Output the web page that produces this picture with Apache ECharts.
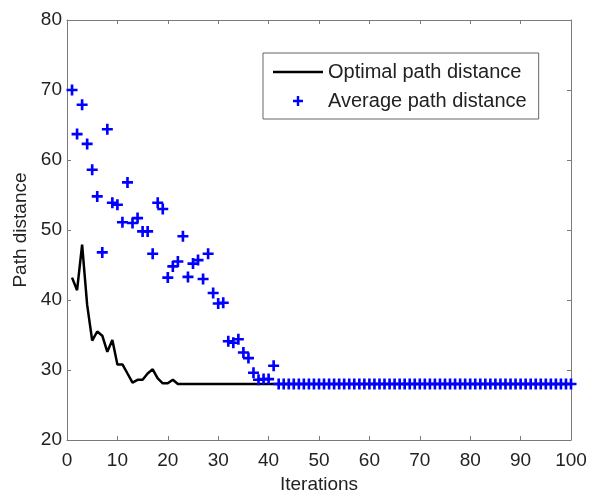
<!DOCTYPE html>
<html>
<head>
<meta charset="utf-8">
<script src="https://cdn.jsdelivr.net/npm/echarts@6/dist/echarts.min.js"></script>
<style>
  html, body { margin: 0; padding: 0; background: #fff; }
  #chart { width: 589px; height: 493px; }
</style>
</head>
<body>
<div id="chart"></div>
<script>
const xTicks = [0, 10, 20, 30, 40, 50, 60, 70, 80, 90, 100]
const yTicks = [20, 30, 40, 50, 60, 70, 80]

const optimal = [
  43.2, 41.4, 47.9, 39.3, 34.2, 35.5, 34.9, 32.6, 34.3, 30.8,
  30.8, 29.5, 28.2, 28.6, 28.6, 29.5, 30.1, 28.8, 28.1, 28.1,
  28.6, 28, 28, 28, 28, 28, 28, 28, 28, 28,
  28, 28, 28, 28, 28, 28, 28, 28, 28, 28,
  28, 28, 28, 28, 28, 28, 28, 28, 28, 28,
  28, 28, 28, 28, 28, 28, 28, 28, 28, 28,
  28, 28, 28, 28, 28, 28, 28, 28, 28, 28,
  28, 28, 28, 28, 28, 28, 28, 28, 28, 28,
  28, 28, 28, 28, 28, 28, 28, 28, 28, 28,
  28, 28, 28, 28, 28, 28, 28, 28, 28, 28
]
const average = [
  70, 63.7, 67.9, 62.3, 58.6, 54.8, 46.8, 64.4, 53.9, 53.6,
  51.1, 56.8, 51.0, 51.7, 49.8, 49.8, 46.6, 53.9, 53.0, 43.2,
  44.8, 45.5, 49.1, 43.3, 45.2, 45.7, 43.0, 46.6, 41.0, 39.5,
  39.6, 34.1, 33.9, 34.4, 32.5, 31.7, 29.6, 28.6, 28.7, 28.7,
  30.6, 28, 28, 28, 28, 28, 28, 28, 28, 28,
  28, 28, 28, 28, 28, 28, 28, 28, 28, 28,
  28, 28, 28, 28, 28, 28, 28, 28, 28, 28,
  28, 28, 28, 28, 28, 28, 28, 28, 28, 28,
  28, 28, 28, 28, 28, 28, 28, 28, 28, 28,
  28, 28, 28, 28, 28, 28, 28, 28, 28, 28
]

// plus marker; legend icons padded with two tiny corner dots so they keep their shape
const plus = 'path://M3.8,0H6.2V3.8H10V6.2H6.2V10H3.8V6.2H0V3.8H3.8Z'
const corners = 'path://M0,0h0.01v0.01h-0.01zM49.99,13.99h0.01v0.01h-0.01z'
const plusIcon = corners + 'M23.8,2H26.2V5.8H30V8.2H26.2V12H23.8V8.2H20V5.8H23.8Z'
const lineIcon = corners + 'M0,5.8H50V8.2H0Z'

const font = 'Arial, "Liberation Sans", sans-serif'
const axisGray = '#7a7a7a'

const chart = echarts.init(document.getElementById('chart'))

function xAxisOf(pos, labels) {
  return {
    type: 'value', position: pos, min: 0, max: 100, interval: 10,
    name: labels ? 'Iterations' : '', nameLocation: 'middle', nameGap: 29,
    nameTextStyle: { fontSize: 19, color: '#222', fontFamily: font },
    axisLine: { show: true, onZero: false, lineStyle: { color: axisGray, width: 1 } },
    axisTick: { show: true, inside: true, length: 4, lineStyle: { color: axisGray } },
    axisLabel: { show: labels, fontSize: 19, color: '#222', fontFamily: font, margin: 11 },
    splitLine: { show: false }
  }
}
function yAxisOf(pos, labels) {
  return {
    type: 'value', position: pos, min: 20, max: 80, interval: 10,
    name: labels ? 'Path distance' : '', nameLocation: 'middle', nameGap: 37,
    nameTextStyle: { fontSize: 19, color: '#222', fontFamily: font },
    axisLine: { show: true, onZero: false, lineStyle: { color: axisGray, width: 1 } },
    axisTick: { show: true, inside: true, length: 4, lineStyle: { color: axisGray } },
    axisLabel: { show: labels, fontSize: 19, color: '#222', fontFamily: font, margin: 5 },
    splitLine: { show: false }
  }
}

chart.setOption({
  animation: false,
  grid: { left: 67, right: 18, top: 20, bottom: 53, containLabel: false, outerBoundsMode: 'none' },
  legend: {
    left: 263, top: 53, orient: 'vertical',
    padding: [9, 12, 8, 10], itemGap: 9, itemWidth: 50, itemHeight: 14,
    backgroundColor: '#fff', borderColor: '#666', borderWidth: 1,
    textStyle: { fontSize: 20, color: '#222', fontFamily: font },
    data: [
      { name: 'Optimal path distance', icon: lineIcon },
      { name: 'Average path distance', icon: plusIcon }
    ]
  },
  xAxis: [xAxisOf('bottom', true), xAxisOf('top', false)],
  yAxis: [yAxisOf('left', true), yAxisOf('right', false)],
  series: [
    {
      name: 'Optimal path distance', type: 'line', symbol: 'none',
      data: optimal.map((v, i) => [i + 1, v]),
      lineStyle: { color: '#000', width: 2.5 }, itemStyle: { color: '#000' }, z: 2
    },
    {
      name: 'Average path distance', type: 'scatter', symbol: plus, symbolSize: 11,
      data: average.map((v, i) => [i + 1, v]),
      itemStyle: { color: '#0000ff', opacity: 1 }, z: 3
    }
  ]
})
</script>
</body>
</html>
